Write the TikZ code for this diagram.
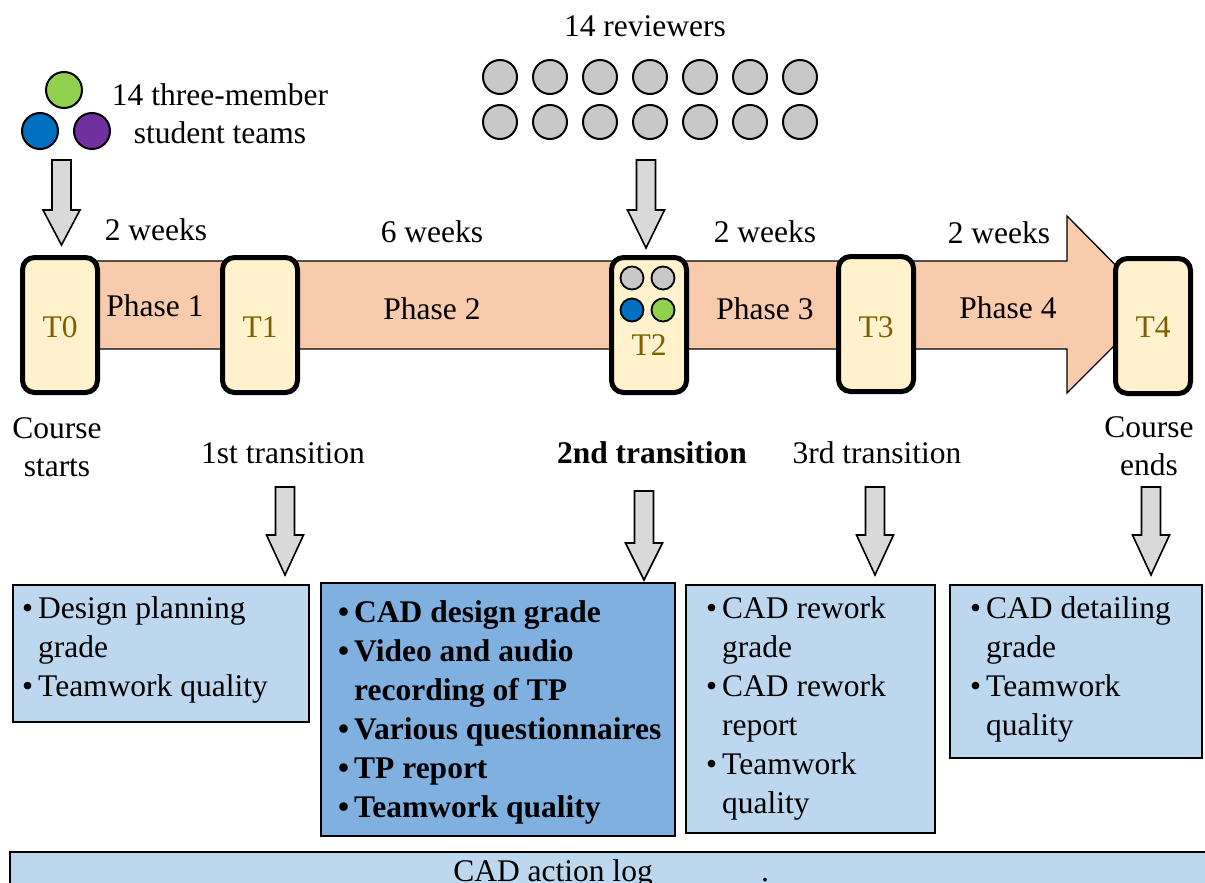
\documentclass[tikz,border=0pt]{standalone}
\usepackage{fontspec}
\setmainfont{Liberation Serif}
\definecolor{peach}{HTML}{F8CBAD}
\definecolor{tfill}{HTML}{FFF2CC}
\definecolor{tlabel}{HTML}{7F6000}
\definecolor{lblue}{HTML}{BDD7EE}
\definecolor{dblue}{HTML}{80B0E0}
\definecolor{arrgray}{HTML}{D9D9D9}
\definecolor{cgray}{HTML}{C8C8C8}
\definecolor{cgreen}{HTML}{92D050}
\definecolor{cblue}{HTML}{0070C0}
\definecolor{cpurple}{HTML}{7030A0}
\newcommand\dnarrow[4]{%
  \draw[garrow] ({#1-9.5},#2) -- ({#1+9.5},#2) -- ({#1+9.5},#3) -- ({#1+18.5},#3)
    -- (#1,#4) -- ({#1-18.5},#3) -- ({#1-9.5},#3) -- cycle;}
\newcommand\bul{\makebox[16pt][l]{\textbullet}}
\newcommand\nob{\hspace*{16pt}}
\tikzset{
  every node/.style={font=\fontsize{31.5}{39}\selectfont, inner sep=0pt},
  garrow/.style={fill=arrgray, draw=black, line width=1.6pt, line join=miter},
  tbox/.style={draw=black, line width=5pt, fill=tfill, rounded corners=12pt,
    minimum width=75pt, minimum height=135pt},
  tlab/.style={text=tlabel},
  person/.style={circle, draw=black, line width=2pt, minimum size=34pt},
  smallperson/.style={circle, draw=black, line width=1.8pt, minimum size=23pt},
  infobox/.style={draw=black, line width=2pt, anchor=north west},
  lst/.style={anchor=base west, align=left},
}
\begin{document}
\begin{tikzpicture}[x=1pt,y=-1pt]
\useasboundingbox (0,0) rectangle (1205,883);
\clip (0,0) rectangle (1205,883);
% team circles
\node[person, fill=cgreen, minimum size=36pt] (tg) at (64,90) {};
\node[person, fill=cblue, minimum size=36pt] (tb) at (40,131) {};
\node[person, fill=cpurple, minimum size=36pt] (tp) at (92,131) {};
\node[anchor=base] (teams) at (220,105) {\begin{tabular}[t]{@{}c@{}}14 three-member\\[-1pt]student teams\end{tabular}};
% reviewers
\node[anchor=base] (revlab) at (645,37) {14 reviewers};
\foreach \i in {0,...,6} {
  \node[person, fill=cgray] (ra\i) at ({500+50*\i},77) {};
  \node[person, fill=cgray] (rb\i) at ({500+50*\i},122) {};
}
% phase arrow
\draw[fill=peach, draw=black, line width=1.3pt] (40,261) -- (1067,261) -- (1067,216) -- (1155,305)
  -- (1067,393) -- (1067,349) -- (40,349) -- cycle;
% block arrows to timeline
\dnarrow{61.5}{160}{210}{245}
\dnarrow{646}{160}{210}{248}
% T boxes
\node[tbox] (T0) at (60,325) {};
\node[tbox] (T1) at (260,325) {};
\node[tbox] (T2) at (649,325) {};
\node[tbox] (T3) at (876,324) {};
\node[tbox] (T4) at (1153,326) {};
\node[tlab, anchor=base] at (60,337) {T0};
\node[tlab, anchor=base] at (260,337) {T1};
\node[tlab, anchor=base] at (649,355) {T2};
\node[tlab, anchor=base] at (876,337) {T3};
\node[tlab, anchor=base] at (1153,337) {T4};
\node[smallperson, fill=cgray] (g1) at (632,278) {};
\node[smallperson, fill=cgray] (g2) at (663,278) {};
\node[smallperson, fill=cblue] (g3) at (632,310) {};
\node[smallperson, fill=cgreen] (g4) at (663,310) {};
% week and phase labels
\node[anchor=base] (w1) at (156,240) {2 weeks};
\node[anchor=base] (w2) at (432,242) {6 weeks};
\node[anchor=base] (w3) at (765,242) {2 weeks};
\node[anchor=base] (w4) at (999,243) {2 weeks};
\node[anchor=base] (p1) at (155,316) {Phase 1};
\node[anchor=base] (p2) at (432,319) {Phase 2};
\node[anchor=base] (p3) at (765,319) {Phase 3};
\node[anchor=base] (p4) at (1008,318) {Phase 4};
% transition labels
\node[anchor=base] (cs) at (57,438) {\begin{tabular}[t]{@{}c@{}}Course\\[-1pt]starts\end{tabular}};
\node[anchor=base] (tr1) at (283,463) {1st transition};
\node[anchor=base, font=\fontsize{31.5}{39}\selectfont\bfseries] (tr2) at (652,463) {2nd transition};
\node[anchor=base] (tr3) at (877,463) {3rd transition};
\node[anchor=base] (ce) at (1149,437) {\begin{tabular}[t]{@{}c@{}}Course\\[-1pt]ends\end{tabular}};
% block arrows to boxes
\dnarrow{285}{487}{535}{575}
\dnarrow{644}{491}{543}{580}
\dnarrow{875}{487}{535}{575}
\dnarrow{1151}{487}{535}{575}
% info boxes
\draw[infobox, fill=lblue] (13,585) rectangle (309,722);
\draw[infobox, fill=dblue] (321,583) rectangle (675,836);
\draw[infobox, fill=lblue] (686,585) rectangle (935,833);
\draw[infobox, fill=lblue] (950,585) rectangle (1202,758);
\node[lst] (l1) at (22,618) {\begin{tabular}[t]{@{}l@{}}\bul Design planning\\ \nob grade\\ \bul Teamwork quality\end{tabular}};
\node[lst, font=\fontsize{31.5}{39}\selectfont\bfseries] (l2) at (338,622) {\begin{tabular}[t]{@{}l@{}}\bul CAD design grade\\ \bul Video and audio\\ \nob recording of TP\\ \bul Various questionnaires\\ \bul TP report\\ \bul Teamwork quality\end{tabular}};
\node[lst] (l3) at (706,618) {\begin{tabular}[t]{@{}l@{}}\bul CAD rework\\ \nob grade\\ \bul CAD rework\\ \nob report\\ \bul Teamwork\\ \nob quality\end{tabular}};
\node[lst] (l4) at (970,618) {\begin{tabular}[t]{@{}l@{}}\bul CAD detailing\\ \nob grade\\ \bul Teamwork\\ \nob quality\end{tabular}};
% bottom bar
\draw[infobox, fill=lblue] (10,852) rectangle (1220,910);
\node[anchor=base] (log) at (553,881) {CAD action log};
\node[anchor=base] (dot) at (765,881) {.};
\end{tikzpicture}
\end{document}
